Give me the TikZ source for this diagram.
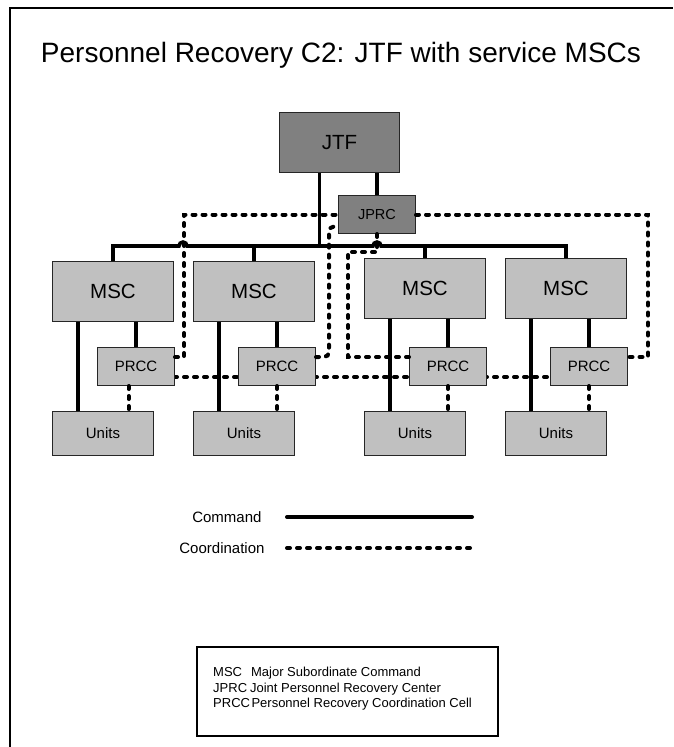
\documentclass[tikz,border=0pt]{standalone}
\usepackage{fontspec}
\setmainfont{Liberation Sans}
\usetikzlibrary{calc}
\definecolor{lightbox}{HTML}{C0C0C0}
\definecolor{darkbox}{HTML}{808080}
\begin{document}
\begin{tikzpicture}[x=1pt,y=-1pt,
  boxbase/.style={draw=black!85, line width=1pt, inner sep=0pt, anchor=north west},
  mscbox/.style={boxbase, fill=lightbox, minimum width=121, minimum height=60,
    font=\fontsize{20.5}{24}\selectfont},
  prccbox/.style={boxbase, fill=lightbox, minimum width=77, minimum height=38,
    font=\fontsize{15}{18}\selectfont},
  unitbox/.style={boxbase, fill=lightbox, minimum width=101, minimum height=44,
    font=\fontsize{15}{18}\selectfont},
  jtfbox/.style={boxbase, fill=darkbox, minimum width=120, minimum height=60,
    font=\fontsize{20.5}{24}\selectfont},
  jprcbox/.style={boxbase, fill=darkbox, minimum width=77, minimum height=38,
    font=\fontsize{14.5}{17}\selectfont},
  cmd/.style={line width=3.6pt},
  coord/.style={line width=4pt, line cap=round, dash pattern=on 3pt off 7pt},
  keytext/.style={font=\fontsize{15}{18}\selectfont, anchor=east},
  abbrev/.style={font=\fontsize{13}{15}\selectfont, anchor=base west, inner sep=0pt}
]
\useasboundingbox (0,0) rectangle (673,747);

% page frame
\draw[line width=2.5pt] (10,747) -- (10,8) -- (673,8);

% title
\node[font=\fontsize{28}{32}\selectfont] (title) at (341,55)
  {Personnel Recovery C2: JTF with service MSCs};

% helper coordinates on the command bus
\coordinate (bus) at (0,246);
\coordinate (hopA) at (183,246);
\coordinate (hopB) at (377,246);

% PRCC coordination line running behind the PRCC boxes
\coordinate (e1) at (174,377);
\coordinate (e2) at (550,377);
\draw[coord] (e1) -- (e2);

% boxes
\node[jtfbox]  (jtf)  at (279,112) {JTF};
\node[jprcbox] (jprc) at (338,195) {JPRC};

\node[mscbox] (m1) at (52,261)  {MSC};
\node[mscbox] (m2) at (193,261) {MSC};
\node[mscbox] (m3) at (364,258) {MSC};
\node[mscbox] (m4) at (505,258) {MSC};

\node[prccbox] (p1) at (97,347)  {PRCC};
\node[prccbox] (p2) at (238,347) {PRCC};
\node[prccbox] (p3) at (409,347) {PRCC};
\node[prccbox] (p4) at (550,347) {PRCC};

\node[unitbox] (u1) at (52,411)  {Units};
\node[unitbox] (u2) at (193,411) {Units};
\node[unitbox] (u3) at (364,411) {Units};
\node[unitbox] (u4) at (505,411) {Units};

% command lines
\draw[cmd] ([xshift=-20pt]jtf.south) -- ([xshift=-20pt]jtf.south |- bus);
\draw[cmd] (jprc.north) -- (jprc.north |- jtf.south);
\draw[cmd] (m1.north) -- (m1.north |- bus) -- ([xshift=-4pt]hopA) arc (180:360:4)
  -- ([xshift=-4pt]hopB) arc (180:360:4) -- (m4.north |- bus) -- (m4.north);
\draw[cmd] (m2.north) -- (m2.north |- bus);
\draw[cmd] (m3.north) -- (m3.north |- bus);

\foreach \i in {1,2,3,4}{
  \draw[cmd] ([xshift=26pt]m\i.south west) -- ([xshift=26pt]u\i.north west);
  \draw[cmd] (p\i.north) -- (p\i.north |- m\i.south);
}

% coordination lines
\draw[coord] ([xshift=-7.5pt]p1.south) -- ([xshift=-7.5pt]p1.south |- u1.north);
\draw[coord] (p2.south) -- (p2.south |- u2.north);
\draw[coord] (p3.south) -- (p3.south |- u3.north);
\draw[coord] (p4.south) -- (p4.south |- u4.north);

\draw[coord] ($(p1.north east)+(0,10)$) -- ++(9,0) |- (jprc.west);
\draw[coord] (jprc.east) -| ($(p4.north east)+(20,10)$) -- ($(p4.north east)+(0,10)$);
\draw[coord, rounded corners=5pt] ($(p2.north east)+(0,10)$) -- ++(13,0)
  |- ($(jprc.west)+(0,12)$);
\draw[coord] (jprc.south) -- ++(0,18) -| ($(p3.north west)+(-61,10)$)
  -- ($(p3.north west)+(0,10)$);

% line legend
\node[keytext] (kcmd) at (265,517) {Command};
\node[keytext] (kcoord) at (268,548) {Coordination};
\coordinate (kc1) at (287,517);
\coordinate (kc2) at (472,517);
\coordinate (kd1) at (287,548);
\coordinate (kd2) at (472,548);
\draw[line width=4pt, line cap=round] (kc1) -- (kc2);
\draw[coord] (kd1) -- (kd2);

% abbreviation key
\node[draw, line width=2pt, minimum width=301, minimum height=89, anchor=north west,
  inner sep=0pt] (key) at (196,646) {};
\node[abbrev] (a1) at (213,676) {MSC\hspace{9pt}Major Subordinate Command};
\node[abbrev] (a2) at (213,692) {JPRC\hspace{3pt}Joint Personnel Recovery Center};
\node[abbrev] (a3) at (213,707) {PRCC\hspace{1.5pt}Personnel Recovery Coordination Cell};
\end{tikzpicture}
\end{document}
